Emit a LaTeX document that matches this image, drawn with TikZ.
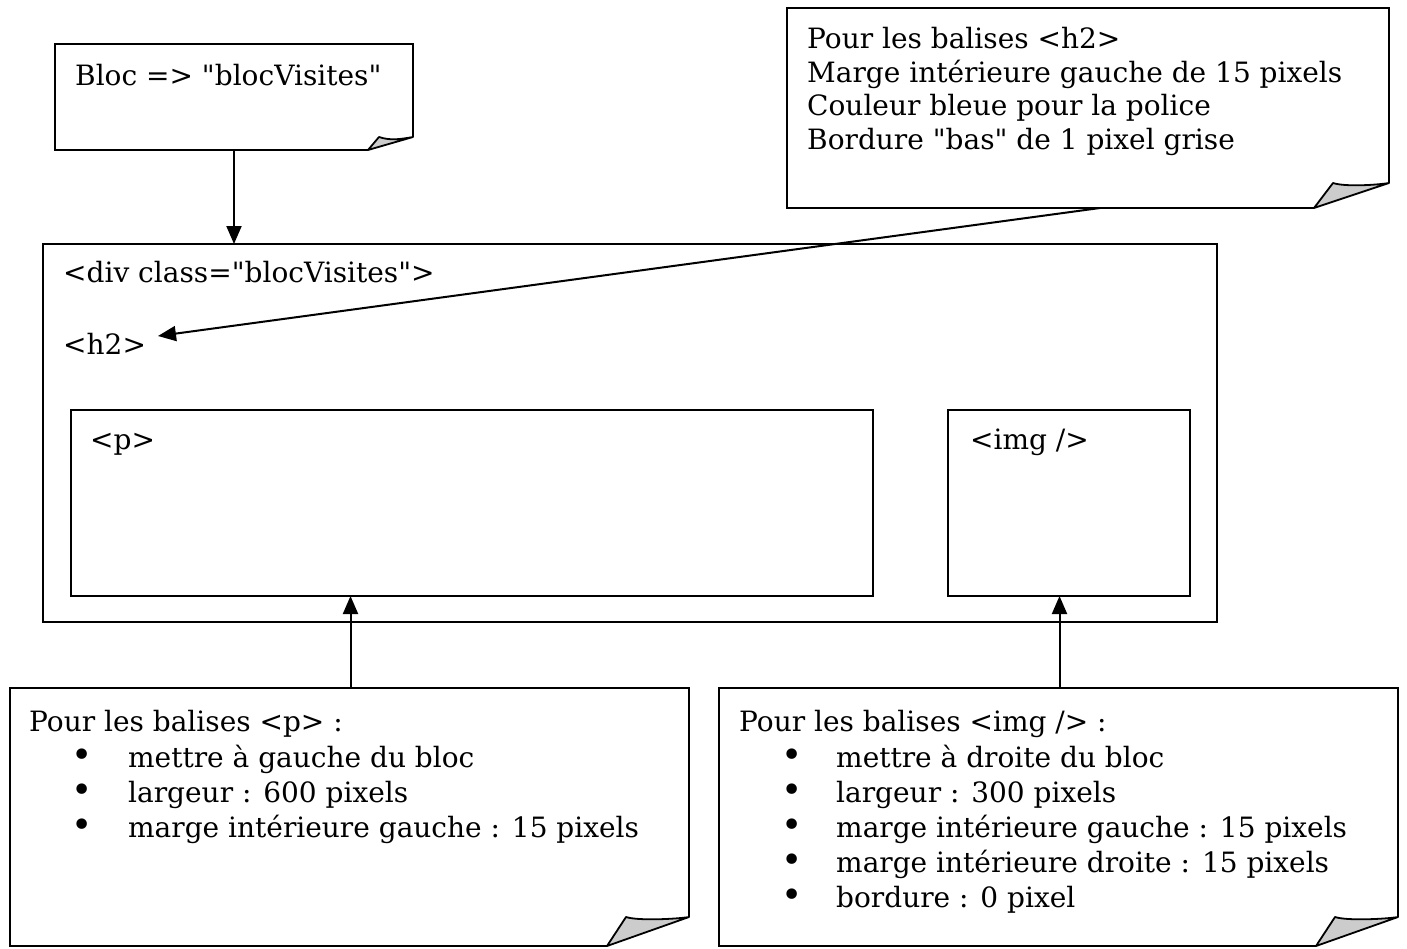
\documentclass[tikz,border=0pt]{standalone}
\usepackage{fontspec}
\setmainfont{DejaVu Serif}
\newfontfamily\dvserif{DejaVu Serif}
\usetikzlibrary{arrows.meta}
\newcommand\foldnote[4]{%
  \draw[bd] ([xshift=-#2pt]#1.south east) -- (#1.south west) -- (#1.north west) -- (#1.north east) -- ([yshift=#4pt]#1.south east);
  \draw[foldfill] ([xshift=-#2pt]#1.south east) -- ([xshift=-#3pt,yshift=#4pt]#1.south east)
    .. controls ([xshift=-#3pt+12pt,yshift=#4pt-4pt]#1.south east) and ([xshift=-12pt,yshift=#4pt-2pt]#1.south east) ..
    ([yshift=#4pt]#1.south east) -- cycle;}
\begin{document}
\begin{tikzpicture}[x=1pt,y=-1pt,
  bd/.style={line width=1.8pt, draw=black},
  box/.style={bd, rectangle, inner sep=0pt, outer sep=0pt, anchor=north west},
  notebox/.style={rectangle, inner sep=0pt, outer sep=0pt, anchor=north west, draw=none},
  txt/.style={inner sep=0pt, anchor=base west, font=\dvserif\fontsize{28}{34}\selectfont},
  bul/.style={inner sep=0pt, anchor=base, font=\dvserif\fontsize{36}{34}\selectfont},
  conn/.style={line width=2pt, -{Triangle[length=18pt,width=15pt]}},
  foldfill/.style={bd, fill=black!20, line join=round}
]
\useasboundingbox (0,0) rectangle (1407,948);
% boxes
\node[notebox, minimum width=358pt, minimum height=106pt] (bloc) at (55,44) {};
\node[notebox, minimum width=602pt, minimum height=200pt] (h2note) at (787,8) {};
\node[box, minimum width=1174pt, minimum height=378pt] (main) at (43,244) {};
\node[box, minimum width=802pt, minimum height=186pt] (pbox) at (71,410) {};
\node[box, minimum width=242pt, minimum height=186pt] (imgbox) at (948,410) {};
\node[notebox, minimum width=679pt, minimum height=258pt] (pnote) at (10,688) {};
\node[notebox, minimum width=679pt, minimum height=258pt] (imgnote) at (719,688) {};
\foldnote{bloc}{45}{34}{13}
\foldnote{h2note}{75}{56}{25}
\foldnote{pnote}{82}{63}{29}
\foldnote{imgnote}{82}{63}{29}
% texts
\node[txt] (tbloc) at (75,85) {Bloc => "blocVisites"};
\node[txt] (th1) at (807,48) {Pour les balises <h2>};
\node[txt] (th2) at (807,82) {Marge intérieure gauche de 15 pixels};
\node[txt] (th3) at (807,115) {Couleur bleue pour la police};
\node[txt] (th4) at (807,149) {Bordure "bas" de 1 pixel grise};
\node[txt] (tdiv) at (63,282) {<div class="blocVisites">};
\node[txt] (th2tag) at (63,354) {<h2>};
\node[txt] (tp) at (90,449) {<p>};
\node[txt] (timg) at (970,449) {<img />};
\node[txt] (tp0) at (29,731) {Pour les balises <p> :};
\node[bul] (bp1) at (82,767) {•};
\node[txt] (tp1) at (128,767) {mettre à gauche du bloc};
\node[bul] (bp2) at (82,802) {•};
\node[txt] (tp2) at (128,802) {largeur : 600 pixels};
\node[bul] (bp3) at (82,837) {•};
\node[txt] (tp3) at (128,837) {marge intérieure gauche : 15 pixels};
\node[txt] (ti0) at (739,731) {Pour les balises <img /> :};
\node[bul] (bi1) at (792,767) {•};
\node[txt] (ti1) at (836,767) {mettre à droite du bloc};
\node[bul] (bi2) at (792,802) {•};
\node[txt] (ti2) at (836,802) {largeur : 300 pixels};
\node[bul] (bi3) at (792,837) {•};
\node[txt] (ti3) at (836,837) {marge intérieure gauche : 15 pixels};
\node[bul] (bi4) at (792,872) {•};
\node[txt] (ti4) at (836,872) {marge intérieure droite : 15 pixels};
\node[bul] (bi5) at (792,907) {•};
\node[txt] (ti5) at (836,907) {bordure : 0 pixel};
% connectors
\coordinate (h2tip) at (158,336);
\draw[conn] (bloc.south) -- (bloc.south |- main.north);
\draw[conn] ([xshift=313pt]h2note.south west) -- (h2tip);
\draw[conn] ([xshift=1pt]pnote.north) -- ([xshift=1pt]pnote.north |- pbox.south);
\draw[conn] ([xshift=1pt]imgnote.north) -- ([xshift=1pt]imgnote.north |- imgbox.south);
\end{tikzpicture}
\end{document}
